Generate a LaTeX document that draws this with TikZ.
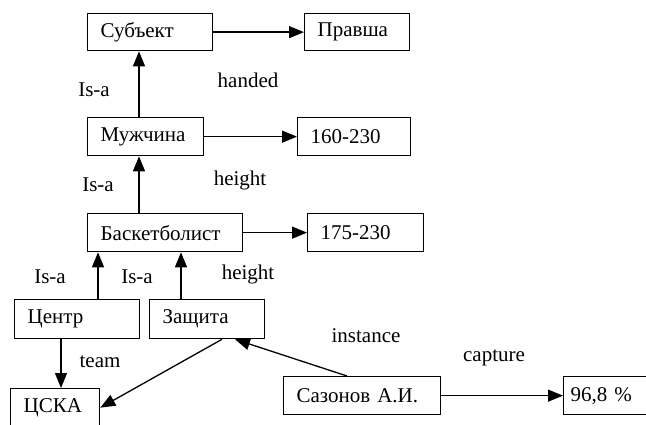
\documentclass[tikz,border=0pt]{standalone}
\usepackage{fontspec}
\setmainfont{Liberation Serif}
\usetikzlibrary{arrows.meta, positioning}

\begin{document}
\begin{tikzpicture}[x=1pt, y=-1pt,
    framebox/.style={draw, line width=1.3pt, anchor=north west, inner xsep=13pt, text width=#1, minimum height=38pt, align=left, font=\fontsize{21}{24}\selectfont},
    lbl/.style={font=\fontsize{21}{24}\selectfont, inner sep=0pt},
    arr/.style={line width=1.3pt, -{Triangle[length=15pt, width=12pt]}}
]
\useasboundingbox (0,0) rectangle (646,425);
\clip (0,0) rectangle (646,425);

% top row
\node[framebox=99pt, minimum height=37pt] (subj) at (87,13) {Субъект};
\node[framebox=79pt, minimum height=37pt] (right) at (304,13) {Правша};

% men
\node[framebox=90pt] (man) at (87,117) {Мужчина};
\node[framebox=87pt] (mheight) at (297,117) {160-230};

% basketball player
\node[framebox=129pt] (bask) at (87,213) {Баскетболист};
\node[framebox=90pt] (bheight) at (307,213) {175-230};

% positions
\node[framebox=99pt, minimum height=39pt] (center) at (14,299) {Центр};
\node[framebox=89pt, minimum height=39pt] (guard) at (149,299) {Защита};

% team and instance
\node[framebox=63pt] (cska) at (10,388) {ЦСКА};
\node[framebox=131pt] (sazonov) at (283,376) {Сазонов А.И.};
\node[framebox=70pt, inner xsep=7pt] (pct) at (563,376) {96,8 \%};

% links
\draw[arr] (subj.east) -- (right.west);
\draw[arr] ([xshift=52pt]man.north west) -- ([xshift=52pt]subj.south west);
\draw[arr] (man.east) -- (mheight.west);
\draw[arr] ([xshift=52pt]bask.north west) -- ([xshift=52pt]man.south west);
\draw[arr] (bask.east) -- (bheight.west);
\draw[arr] ([xshift=84pt]center.north west) -- ([xshift=11pt]bask.south west);
\draw[arr] ([xshift=32pt]guard.north west) -- ([xshift=94pt]bask.south west);
\draw[arr] ([xshift=47pt]center.south west) -- ([xshift=51pt]cska.north west);
\draw[arr] ([xshift=73pt]guard.south west) -- (cska.east);
\draw[arr] ([xshift=64pt]sazonov.north west) -- ([xshift=86pt]guard.south west);
\draw[arr] (sazonov.east) -- (pct.west);

% labels
\node[lbl] (isa1) at (94,90) {Is-a};
\node[lbl] (handed) at (248,80) {handed};
\node[lbl] (isa2) at (98,185) {Is-a};
\node[lbl] (height1) at (240,180) {height};
\node[lbl] (isa3) at (50,277) {Is-a};
\node[lbl] (isa4) at (137,277) {Is-a};
\node[lbl] (height2) at (248,274) {height};
\node[lbl] (team) at (100,362) {team};
\node[lbl] (instance) at (366,336) {instance};
\node[lbl] (capture) at (494,358) {capture};
\end{tikzpicture}
\end{document}
